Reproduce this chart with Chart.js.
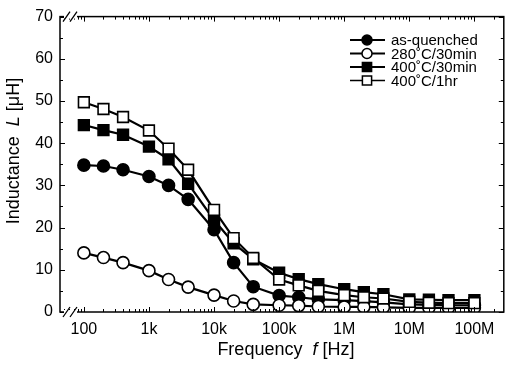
<!DOCTYPE html>
<html>
<head>
<meta charset="utf-8">
<script src="https://cdn.jsdelivr.net/npm/chart.js@4/dist/chart.umd.min.js"></script>
<style>
  html, body { margin: 0; padding: 0; background: #fff; }
  #chart { display: block; }
</style>
</head>
<body>
<canvas id="chart" width="513" height="371"></canvas>
<script>
// frequencies in Hz
const freqs = [100, 200, 400, 1e3, 2e3, 4e3, 1e4, 2e4, 4e4, 1e5, 2e5, 4e5, 1e6, 2e6, 4e6, 1e7, 2e7, 4e7, 1e8];

// inductance in uH
const asQuenched = [34.8, 34.6, 33.7, 32.1, 30.0, 26.7, 19.5, 11.7, 6.0, 3.9, 3.5, 3.0, 2.8, 2.6, 2.3, 1.8, 1.7, 1.6, 1.6];
const ann280_30 = [14.0, 12.9, 11.7, 9.8, 7.7, 5.9, 4.0, 2.6, 1.8, 1.6, 1.5, 1.3, 1.2, 1.2, 1.1, 1.0, 1.0, 1.0, 1.0];
const ann400_30 = [44.3, 43.1, 42.0, 39.2, 36.2, 30.4, 21.8, 16.3, 12.5, 9.3, 7.8, 6.6, 5.4, 4.7, 4.2, 3.0, 2.9, 2.8, 2.8];
const ann400_1h = [49.7, 48.1, 46.2, 43.0, 38.7, 33.7, 24.2, 17.5, 12.8, 7.7, 6.3, 5.0, 4.0, 3.5, 3.2, 2.4, 2.2, 2.1, 2.1];

const seriesNames = ["as-quenched", "280\u02DAC/30min", "400\u02DAC/30min", "400\u02DAC/1hr"];

const xTickValues = [100, 1e3, 1e4, 1e5, 1e6, 1e7, 1e8];
const xTickLabels = ["100", "1k", "10k", "100k", "1M", "10M", "100M"];

const FONT = "'Liberation Sans', Arial, sans-serif";
Chart.defaults.font.family = FONT;
Chart.defaults.color = "#000";

const styles = [
  { pointStyle: "circle", radius: 6, fill: "#000", lw: 2.2 },
  { pointStyle: "circle", radius: 6, fill: "#fff", lw: 2.2 },
  { pointStyle: "rect", radius: 7.6, fill: "#000", lw: 2.2 },
  { pointStyle: "rect", radius: 7.6, fill: "#fff", lw: 1.5 },
];

function makeSet(i, vals) {
  const s = styles[i];
  return {
    label: seriesNames[i],
    data: freqs.map((f, k) => ({ x: f, y: vals[k] })),
    borderColor: "#000",
    borderWidth: 2.2,
    pointStyle: s.pointStyle,
    pointRadius: s.radius,
    pointBackgroundColor: s.fill,
    pointBorderColor: "#000",
    pointBorderWidth: 1.6,
    tension: 0,
  };
}

function drawMarker(ctx, s, x, y, r) {
  ctx.save();
  ctx.fillStyle = s.fill;
  ctx.strokeStyle = "#000";
  ctx.lineWidth = 1.5;
  ctx.beginPath();
  if (s.pointStyle === "circle") {
    ctx.arc(x, y, r, 0, Math.PI * 2);
  } else {
    const h = r * Math.SQRT1_2;
    ctx.rect(x - h, y - h, 2 * h, 2 * h);
  }
  ctx.fill();
  ctx.stroke();
  ctx.restore();
}

function drawMixed(ctx, parts, size) {
  let total = 0;
  parts.forEach(p => {
    ctx.font = (p.italic ? "italic " : "") + size + "px " + FONT;
    p.w = ctx.measureText(p.text).width;
    total += p.w;
  });
  let x = -total / 2;
  parts.forEach(p => {
    ctx.font = (p.italic ? "italic " : "") + size + "px " + FONT;
    ctx.fillText(p.text, x, 0);
    x += p.w;
  });
}

const decorations = {
  id: "decorations",
  afterDraw(chart) {
    const { ctx, chartArea: a, scales } = chart;
    const xs = scales.x, ys = scales.y;
    ctx.save();
    ctx.strokeStyle = "#000";
    ctx.lineWidth = 1.5;
    ctx.strokeRect(a.left, a.top, a.right - a.left, a.bottom - a.top);

    // inward ticks
    ctx.lineWidth = 1;
    ctx.beginPath();
    for (let e = 1; e <= 8; e++) {
      for (let m = 1; m <= 9; m++) {
        const v = m * Math.pow(10, e);
        if (v < xs.min || v > xs.max) continue;
        const px = Math.round(xs.getPixelForValue(v)) + 0.5;
        const len = m === 1 ? 5 : 3;
        ctx.moveTo(px, a.bottom); ctx.lineTo(px, a.bottom - len);
        ctx.moveTo(px, a.top); ctx.lineTo(px, a.top + len);
      }
    }
    for (let v = 0; v <= 70; v += 5) {
      const py = Math.round(ys.getPixelForValue(v)) + 0.5;
      const len = v % 10 === 0 ? 5 : 3;
      ctx.moveTo(a.left, py); ctx.lineTo(a.left + len, py);
      ctx.moveTo(a.right, py); ctx.lineTo(a.right - len, py);
    }
    ctx.stroke();

    // axis breaks
    [a.top, a.bottom].forEach(yb => {
      ctx.fillStyle = "#fff";
      ctx.fillRect(a.left + 4, yb - 2, 13, 4);
      ctx.strokeStyle = "#000";
      ctx.lineWidth = 1.3;
      ctx.beginPath();
      ctx.moveTo(a.left + 3, yb + 5); ctx.lineTo(a.left + 10, yb - 5);
      ctx.moveTo(a.left + 10, yb + 5); ctx.lineTo(a.left + 17, yb - 5);
      ctx.stroke();
    });

    // axis titles
    ctx.fillStyle = "#000";
    ctx.textBaseline = "middle";
    ctx.textAlign = "left";
    ctx.save();
    ctx.translate((a.left + a.right) / 2 + 4, 350);
    drawMixed(ctx, [{ text: "Frequency  " }, { text: "f", italic: true }, { text: " [Hz]" }], 18);
    ctx.restore();
    ctx.save();
    ctx.translate(14, 151);
    ctx.rotate(-Math.PI / 2);
    drawMixed(ctx, [{ text: "Inductance  " }, { text: "L", italic: true }, { text: " [\u03BCH]" }], 18);
    ctx.restore();

    // legend
    ctx.font = "15px " + FONT;
    seriesNames.forEach((name, i) => {
      const y = 40 + i * 13.5;
      ctx.strokeStyle = "#000";
      ctx.lineWidth = styles[i].lw;
      ctx.beginPath();
      ctx.moveTo(350, y); ctx.lineTo(385, y);
      ctx.stroke();
      drawMarker(ctx, styles[i], 367, y, styles[i].pointStyle === "circle" ? 5 : 6.5);
      ctx.fillStyle = "#000";
      ctx.fillText(name, 391, y + 1);
    });
    ctx.restore();
  },
};

new Chart(document.getElementById("chart"), {
  type: "line",
  data: {
    datasets: [
      makeSet(0, asQuenched),
      makeSet(1, ann280_30),
      makeSet(2, ann400_30),
      makeSet(3, ann400_1h),
    ].reverse(),
  },
  options: {
    responsive: false,
    animation: false,
    devicePixelRatio: 1,
    layout: { padding: { top: 12, right: 5, left: 0, bottom: 0 } },
    plugins: { legend: { display: false }, tooltip: { enabled: false } },
    scales: {
      x: {
        type: "logarithmic",
        min: 43,
        max: 2.83e8,
        grid: { display: false, drawTicks: false },
        border: { display: false },
        afterBuildTicks: s => { s.ticks = xTickValues.map(v => ({ value: v })); },
        afterFit: s => { s.height = 59; },
        ticks: {
          autoSkip: false,
          maxRotation: 0,
          padding: 8,
          color: "#000",
          font: { size: 16 },
          callback: v => {
            const i = xTickValues.indexOf(v);
            return i >= 0 ? xTickLabels[i] : "";
          },
        },
      },
      y: {
        min: 0,
        max: 70,
        grid: { display: false, drawTicks: false },
        border: { display: false },
        afterFit: s => { s.width = 60; },
        ticks: { stepSize: 10, padding: 7, color: "#000", font: { size: 16 } },
      },
    },
  },
  plugins: [decorations],
});
</script>
</body>
</html>
